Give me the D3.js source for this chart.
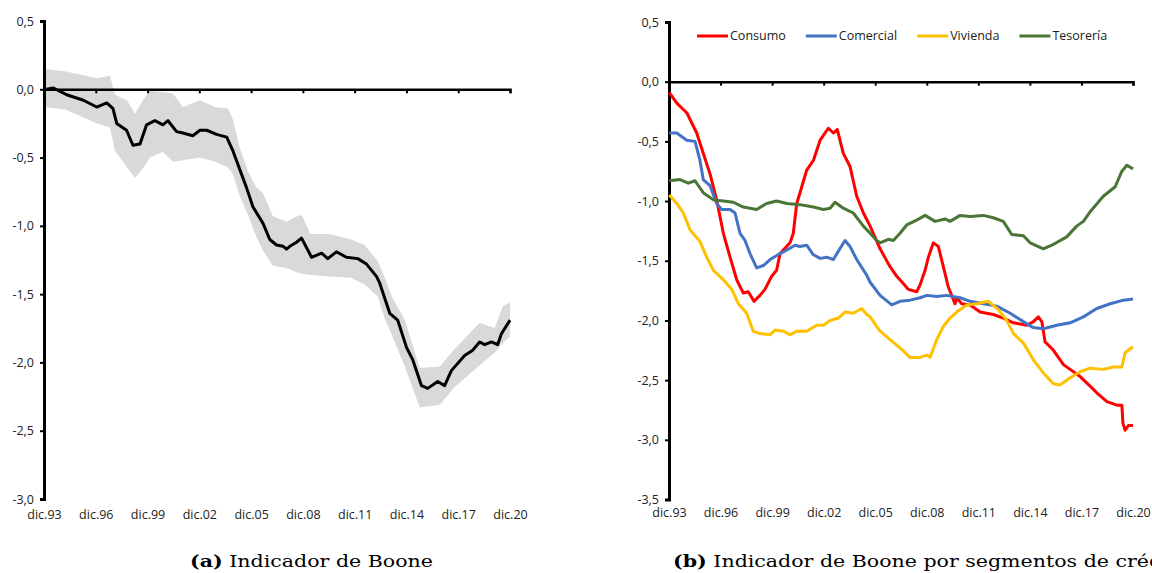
<!DOCTYPE html>
<html>
<head>
<meta charset="utf-8">
<title>Indicador de Boone</title>
<script src="https://cdn.jsdelivr.net/npm/d3@7"></script>
<style>
  body { margin: 0; background: #fff; }
  text { font-family: "Open Sans", sans-serif; }
</style>
</head>
<body>
<svg width="1152" height="573" id="mainsvg"></svg>
<script>
// ---- data (decimal year, value) ----
const tickYears = [1993.917, 1996.917, 1999.917, 2002.917, 2005.917, 2008.917, 2011.917, 2014.917, 2017.917, 2020.917];
const tickLabels = ["dic.93", "dic.96", "dic.99", "dic.02", "dic.05", "dic.08", "dic.11", "dic.14", "dic.17", "dic.20"];
const yTicksA = [0.5, 0, -0.5, -1, -1.5, -2, -2.5, -3];
const yTicksB = [0.5, 0, -0.5, -1, -1.5, -2, -2.5, -3, -3.5];

const boone = [[1993.92,0.00],[1994.07,0.00],[1994.44,0.01],[1995.23,-0.04],[1996.20,-0.08],[1996.97,-0.13],[1997.55,-0.10],[1997.91,-0.14],[1998.13,-0.25],[1998.70,-0.30],[1999.07,-0.41],[1999.48,-0.40],[1999.86,-0.26],[2000.34,-0.23],[2000.81,-0.26],[2001.10,-0.23],[2001.60,-0.31],[2001.97,-0.32],[2002.54,-0.34],[2002.95,-0.30],[2003.34,-0.30],[2003.92,-0.33],[2004.50,-0.35],[2004.86,-0.45],[2005.65,-0.72],[2006.02,-0.86],[2006.60,-0.98],[2007.00,-1.10],[2007.39,-1.14],[2007.77,-1.15],[2007.97,-1.17],[2008.16,-1.15],[2008.55,-1.12],[2008.84,-1.09],[2009.42,-1.23],[2010.00,-1.20],[2010.36,-1.24],[2010.86,-1.19],[2011.44,-1.23],[2012.10,-1.24],[2012.60,-1.28],[2013.18,-1.37],[2013.37,-1.42],[2013.95,-1.64],[2014.41,-1.69],[2014.92,-1.89],[2015.28,-1.98],[2015.79,-2.17],[2016.15,-2.19],[2016.73,-2.14],[2017.13,-2.17],[2017.52,-2.06],[2018.29,-1.95],[2018.76,-1.91],[2019.16,-1.85],[2019.45,-1.87],[2019.84,-1.85],[2020.20,-1.87],[2020.42,-1.79],[2020.92,-1.69]];

const bandYears = [1993.92,1995.19,1996.99,1997.74,1998.03,1998.72,1999.19,1999.65,2000.05,2000.81,2001.39,2001.97,2002.95,2003.82,2004.57,2004.86,2005.26,2005.74,2006.22,2006.60,2007.18,2007.99,2008.57,2008.86,2009.34,2010.48,2011.71,2012.49,2013.26,2013.66,2014.07,2014.82,2015.69,2016.85,2017.72,2019.16,2020.03,2020.49,2020.92];
const bandHigh = [0.15,0.13,0.08,0.10,-0.04,-0.08,-0.18,-0.08,-0.01,-0.02,-0.03,-0.13,-0.08,-0.13,-0.14,-0.22,-0.43,-0.60,-0.72,-0.76,-0.93,-0.97,-0.93,-0.92,-1.06,-1.06,-1.10,-1.14,-1.26,-1.38,-1.52,-1.69,-2.04,-2.03,-1.90,-1.71,-1.75,-1.59,-1.56];
const bandLow = [-0.13,-0.15,-0.25,-0.28,-0.45,-0.57,-0.65,-0.58,-0.50,-0.46,-0.53,-0.52,-0.50,-0.53,-0.57,-0.62,-0.78,-0.92,-1.08,-1.18,-1.29,-1.31,-1.34,-1.35,-1.36,-1.37,-1.38,-1.43,-1.52,-1.68,-1.80,-2.03,-2.33,-2.31,-2.18,-2.02,-1.93,-1.86,-1.81];

const consumo = [[1993.93,-0.09],[1994.37,-0.18],[1994.95,-0.26],[1995.53,-0.43],[1995.91,-0.60],[1996.30,-0.77],[1996.69,-0.99],[1997.08,-1.27],[1997.47,-1.47],[1997.86,-1.66],[1998.24,-1.77],[1998.53,-1.76],[1998.86,-1.84],[1999.21,-1.79],[1999.50,-1.74],[1999.89,-1.63],[2000.18,-1.58],[2000.38,-1.44],[2000.96,-1.35],[2001.15,-1.27],[2001.35,-1.02],[2001.54,-0.93],[2001.93,-0.74],[2002.32,-0.66],[2002.71,-0.49],[2003.19,-0.39],[2003.48,-0.43],[2003.71,-0.40],[2004.06,-0.60],[2004.45,-0.71],[2004.84,-0.96],[2005.23,-1.10],[2005.62,-1.21],[2006.20,-1.40],[2006.78,-1.55],[2007.17,-1.63],[2007.55,-1.69],[2007.84,-1.74],[2008.33,-1.76],[2008.53,-1.70],[2008.82,-1.58],[2009.01,-1.47],[2009.30,-1.35],[2009.59,-1.38],[2009.88,-1.55],[2010.17,-1.72],[2010.56,-1.86],[2010.66,-1.81],[2010.95,-1.86],[2011.44,-1.87],[2012.02,-1.93],[2012.79,-1.95],[2013.37,-1.98],[2013.96,-2.02],[2014.74,-2.04],[2015.12,-2.01],[2015.41,-1.97],[2015.61,-2.01],[2015.80,-2.18],[2016.29,-2.25],[2016.87,-2.37],[2017.26,-2.41],[2017.84,-2.47],[2018.42,-2.55],[2018.91,-2.62],[2019.40,-2.68],[2019.98,-2.71],[2020.27,-2.71],[2020.33,-2.86],[2020.46,-2.92],[2020.65,-2.88],[2020.92,-2.88]];

const comercial = [[1993.93,-0.43],[1994.37,-0.43],[1994.95,-0.49],[1995.43,-0.50],[1995.72,-0.66],[1995.91,-0.82],[1996.30,-0.87],[1996.69,-1.02],[1996.98,-1.07],[1997.47,-1.07],[1997.76,-1.10],[1998.05,-1.27],[1998.34,-1.33],[1998.63,-1.44],[1999.02,-1.56],[1999.41,-1.54],[1999.80,-1.49],[2000.38,-1.44],[2000.77,-1.41],[2001.25,-1.37],[2001.54,-1.38],[2001.93,-1.37],[2002.32,-1.45],[2002.71,-1.48],[2003.10,-1.47],[2003.48,-1.49],[2003.77,-1.42],[2004.16,-1.33],[2004.45,-1.38],[2004.84,-1.49],[2005.42,-1.62],[2005.62,-1.68],[2006.20,-1.79],[2006.88,-1.87],[2007.36,-1.84],[2007.94,-1.83],[2008.53,-1.81],[2008.92,-1.79],[2009.50,-1.80],[2010.08,-1.79],[2010.86,-1.81],[2011.44,-1.84],[2012.21,-1.86],[2012.99,-1.88],[2013.77,-1.94],[2014.54,-2.01],[2015.12,-2.06],[2015.70,-2.07],[2016.48,-2.04],[2017.26,-2.02],[2018.03,-1.97],[2018.81,-1.90],[2019.59,-1.86],[2020.36,-1.83],[2020.92,-1.82]];

const vivienda = [[1993.93,-0.95],[1994.37,-1.02],[1994.75,-1.10],[1995.14,-1.24],[1995.72,-1.34],[1996.11,-1.47],[1996.50,-1.58],[1997.08,-1.66],[1997.57,-1.74],[1997.95,-1.86],[1998.44,-1.94],[1998.82,-2.09],[1999.21,-2.11],[1999.80,-2.12],[2000.09,-2.08],[2000.57,-2.09],[2000.96,-2.12],[2001.35,-2.09],[2001.93,-2.09],[2002.51,-2.04],[2002.90,-2.04],[2003.29,-2.00],[2003.77,-1.98],[2004.16,-1.93],[2004.64,-1.94],[2005.13,-1.90],[2005.42,-1.95],[2005.62,-1.97],[2006.00,-2.05],[2006.20,-2.09],[2006.78,-2.16],[2007.36,-2.23],[2007.94,-2.31],[2008.53,-2.31],[2008.92,-2.29],[2009.11,-2.31],[2009.50,-2.16],[2009.88,-2.05],[2010.27,-1.98],[2010.66,-1.93],[2011.24,-1.87],[2011.83,-1.86],[2012.50,-1.84],[2013.08,-1.91],[2013.57,-2.00],[2013.96,-2.11],[2014.54,-2.19],[2015.12,-2.33],[2015.70,-2.44],[2016.29,-2.53],[2016.68,-2.54],[2017.26,-2.48],[2017.84,-2.43],[2018.42,-2.40],[2019.19,-2.41],[2019.78,-2.39],[2020.27,-2.39],[2020.46,-2.27],[2020.92,-2.22]];

const tesoreria = [[1993.93,-0.83],[1994.56,-0.82],[1995.04,-0.85],[1995.43,-0.83],[1995.91,-0.93],[1996.50,-0.99],[1997.08,-1.00],[1997.66,-1.01],[1998.24,-1.05],[1999.02,-1.07],[1999.60,-1.02],[2000.18,-1.00],[2000.77,-1.02],[2001.54,-1.03],[2002.32,-1.05],[2002.90,-1.07],[2003.29,-1.06],[2003.58,-1.01],[2004.06,-1.06],[2004.64,-1.10],[2005.23,-1.21],[2005.62,-1.27],[2006.00,-1.33],[2006.20,-1.35],[2006.68,-1.32],[2006.97,-1.33],[2007.36,-1.27],[2007.75,-1.20],[2008.33,-1.16],[2008.82,-1.12],[2009.40,-1.17],[2009.98,-1.15],[2010.27,-1.17],[2010.86,-1.12],[2011.44,-1.13],[2012.21,-1.12],[2012.79,-1.14],[2013.37,-1.17],[2013.86,-1.28],[2014.54,-1.29],[2014.93,-1.35],[2015.70,-1.40],[2016.19,-1.37],[2017.06,-1.30],[2017.64,-1.21],[2018.03,-1.17],[2018.42,-1.09],[2019.19,-0.96],[2019.88,-0.88],[2020.27,-0.75],[2020.56,-0.70],[2020.92,-0.73]];

const seriesNames = ["Consumo", "Comercial", "Vivienda", "Tesorería"];
const seriesColors = ["#ff0000", "#4472c4", "#ffc000", "#4a7535"];
const seriesData = [consumo, comercial, vivienda, tesoreria];

// ---- setup ----
const main_svg = d3.select("#mainsvg");
main_svg.append("rect").attr("width", 1152).attr("height", 573).attr("fill", "#fff");

const esLocale = d3.formatLocale({decimal: ",", thousands: ".", grouping: [3], currency: ["", "€"], minus: "-"});
const yFmt = esLocale.format(".1f");

const xA = d3.scaleLinear().domain([1993.917, 2020.917]).range([44, 510]);
const yA = d3.scaleLinear().domain([-3, 0.5]).range([499, 21]);
const xB = d3.scaleLinear().domain([1993.917, 2020.917]).range([669, 1133]);
const yB = d3.scaleLinear().domain([-3.5, 0.5]).range([499.5, 22]);

const drawAxes = function(g, xScale, yScale, yTicks, labelY){
    const yAxis = d3.axisLeft(yScale).tickValues(yTicks).tickFormat(yFmt).tickSize(4).tickPadding(6);
    const yg = g.append("g").attr("transform", `translate(${xScale.range()[0]},0)`).call(yAxis);
    yg.select(".domain").attr("stroke-width", 3).attr("stroke", "#000");
    yg.selectAll(".tick line").attr("stroke-width", 2);
    yg.selectAll("text").attr("font-size", "12.5px").attr("fill", "#222")
      .style("font-family", "'Open Sans', sans-serif");

    // zero line with tick marks
    const xAxis = d3.axisBottom(xScale).tickValues(tickYears).tickFormat("").tickSizeOuter(0).tickSize(4);
    const xg = g.append("g").attr("transform", `translate(0,${yScale(0)})`).call(xAxis);
    xg.select(".domain").attr("stroke-width", 2.5).attr("stroke", "#000");
    xg.selectAll(".tick line").attr("stroke-width", 2);

    // date labels at the bottom
    const lab = d3.axisBottom(xScale).tickValues(tickYears)
      .tickFormat((d, i) => tickLabels[i]).tickSize(0).tickPadding(0);
    const lg = g.append("g").attr("transform", `translate(0,${labelY})`).call(lab);
    lg.select(".domain").remove();
    lg.selectAll("text").attr("font-size", "12.5px").attr("fill", "#222")
      .style("font-family", "'Open Sans', sans-serif");
};

// ---- (a) ----
const gA = main_svg.append("g");
const band = bandYears.map((t, i) => [t, bandLow[i], bandHigh[i]]);
gA.append("path").datum(band)
  .attr("fill", "#d9d9d9")
  .attr("d", d3.area().x(d => xA(d[0])).y0(d => yA(d[1])).y1(d => yA(d[2])));
drawAxes(gA, xA, yA, yTicksA, 510);
gA.append("path").datum(boone)
  .attr("fill", "none").attr("stroke", "#000").attr("stroke-width", 3)
  .attr("stroke-linejoin", "round")
  .attr("d", d3.line().x(d => xA(d[0])).y(d => yA(d[1])));

// ---- (b) ----
const gB = main_svg.append("g");
drawAxes(gB, xB, yB, yTicksB, 508);
seriesData.forEach((s, i) => {
    gB.append("path").datum(s)
      .attr("fill", "none").attr("stroke", seriesColors[i]).attr("stroke-width", 3)
      .attr("stroke-linejoin", "round")
      .attr("d", d3.line().x(d => xB(d[0])).y(d => yB(d[1])));
});

// legend
let lx = 697;
seriesNames.forEach((name, i) => {
    const item = gB.append("g").attr("transform", `translate(${lx},36)`);
    item.append("line").attr("x1", 0).attr("x2", 31)
      .attr("stroke", seriesColors[i]).attr("stroke-width", 3);
    const t = item.append("text").attr("x", 33).attr("dy", "0.35em")
      .attr("font-size", "12.5px").attr("fill", "#222").text(name);
    lx += 33 + t.node().getComputedTextLength() + 20;
});

// ---- captions (stretched a little to match the wider LaTeX font) ----
const captions = [["(a)", " Indicador de Boone", 190], ["(b)", " Indicador de Boone por segmentos de crédito", 673]];
let stretch = 1;
captions.forEach((c, k) => {
    const g = main_svg.append("g").attr("transform", `translate(${c[2]},567)`);
    const t = g.append("text").attr("x", 0).attr("y", 0)
      .attr("font-size", "17px").attr("fill", "#000")
      .style("font-family", "'DejaVu Serif', serif");
    t.append("tspan").attr("font-weight", "bold").text(c[0]);
    t.append("tspan").text(c[1]);
    if (k === 0) stretch = 243 / t.node().getComputedTextLength();
    t.attr("transform", `scale(${stretch},1)`);
});
</script>
</body>
</html>
